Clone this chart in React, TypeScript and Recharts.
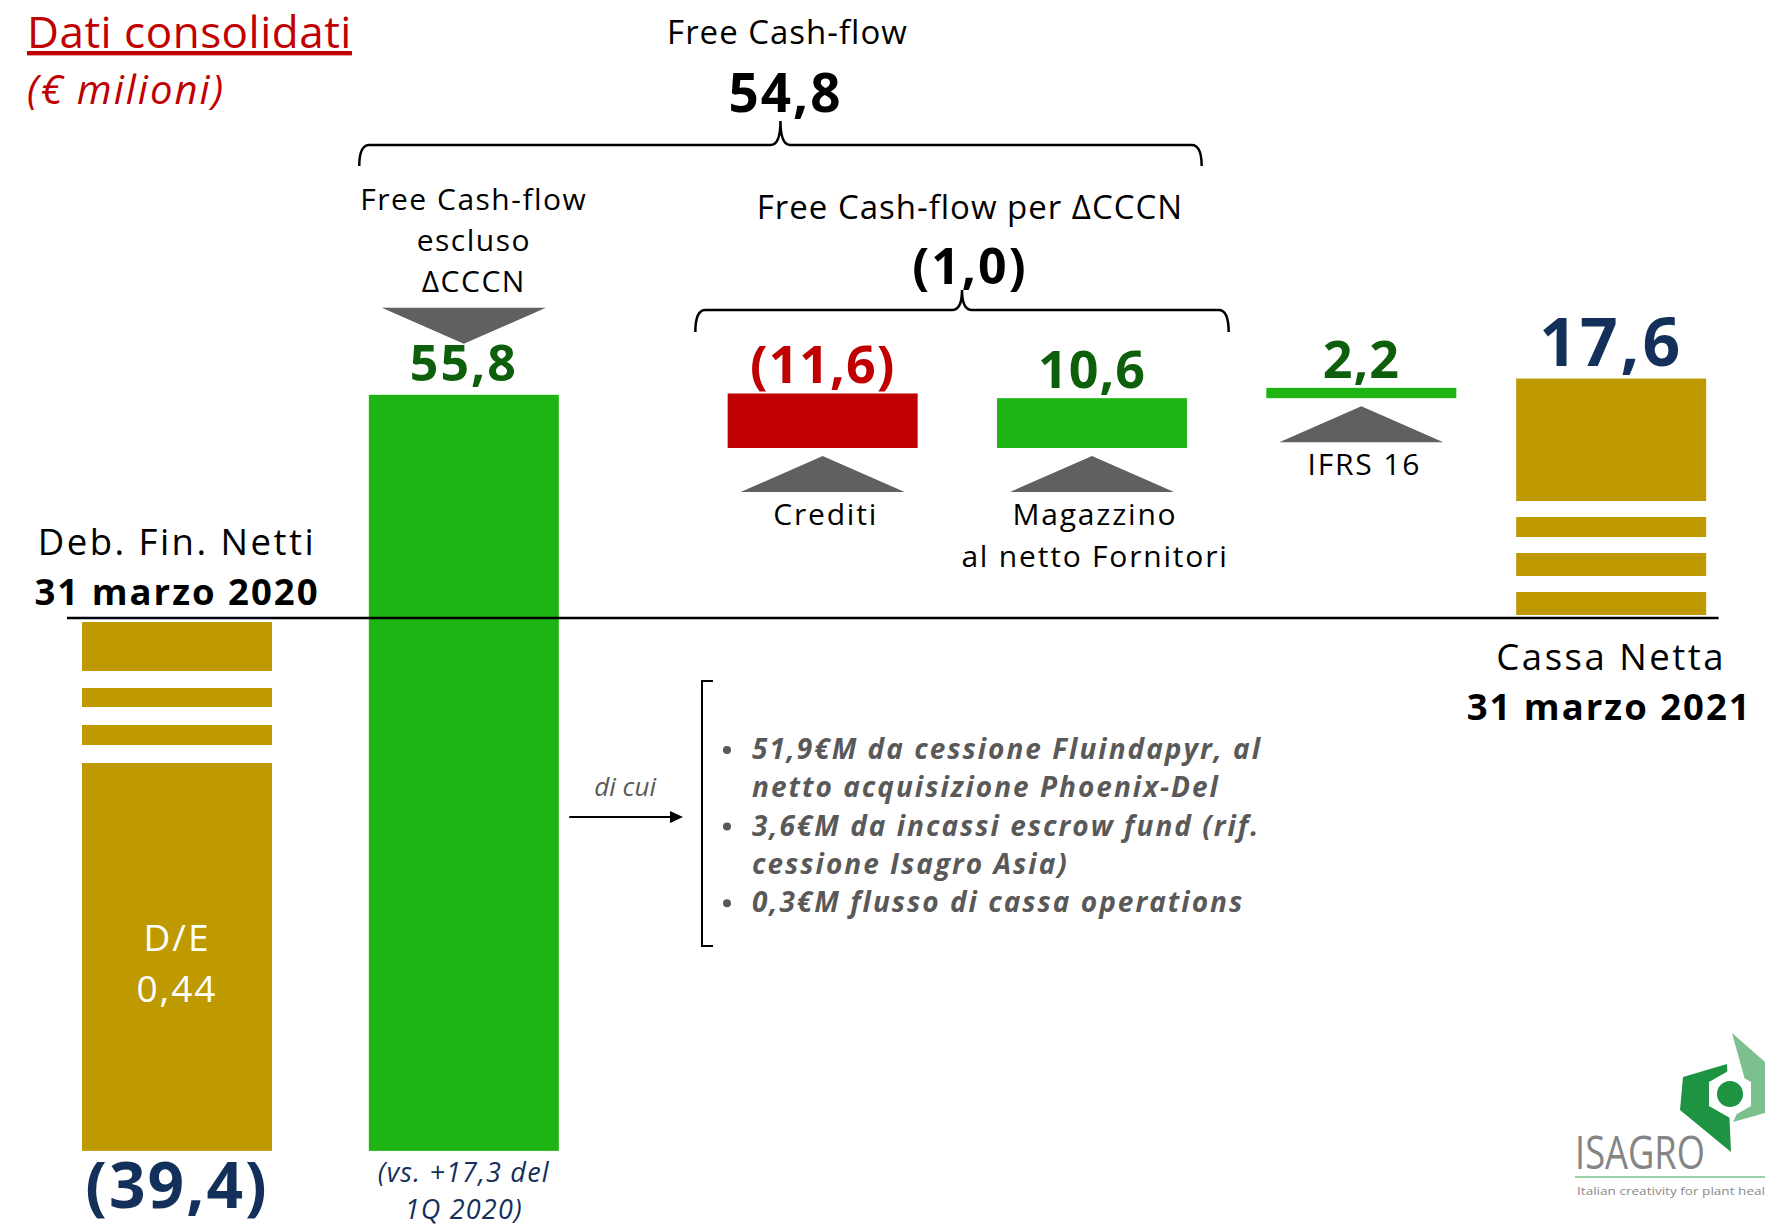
import React from 'react';
import { ComposedChart, Bar, XAxis, YAxis } from 'recharts';

// Net financial position bridge, € millions
const categories = [
  ['Deb. Fin. Netti', '31 marzo 2020'],
  ['Free Cash-flow', 'escluso', 'ΔCCCN'],
  ['Crediti'],
  ['Magazzino', 'al netto Fornitori'],
  ['IFRS 16'],
  ['Cassa Netta', '31 marzo 2021'],
];
const stepValues = [-39.4, 55.8, -11.6, 10.6, 2.2, 17.6];
const stepKinds = ['total', 'delta', 'delta', 'delta', 'delta', 'total'];
// middle steps are drawn on a compressed scale, as in the slide
const stepScale = ['main', 'main', 'detail', 'detail', 'detail', 'main'];
const debtToEquity = 0.44;
const priorYearFcf = 17.3;
const fcfBreakdown = [
  ['51,9€M da cessione Fluindapyr, al', 'netto acquisizione Phoenix-Del'],
  ['3,6€M da incassi escrow fund (rif.', 'cessione Isagro Asia)'],
  ['0,3€M flusso di cassa operations'],
];

const W = 1765;
const H = 1228;
const PAD_MAIN = { left: 34, right: 10 };
const PAD_DETAIL = { left: 149, right: 0 };
const BAR_W = 190;
const Y0 = 617;
const K_MAIN = 13.55;
const K_DETAIL = 4.7;
const DETAIL_REF = 4.8;
const DETAIL_REF_Y = 448;

const FONT = "'Open Sans', sans-serif";
const GOLD = '#BF9900';
const GREEN = '#1EB514';
const RED = '#C00000';
const DARK_GREEN = '#0E5F0B';
const NAVY = '#13305A';
const GREY = '#606060';
const TEXT_GREY = '#595959';

const fmt = (v: number, d = 1) => {
  const s = Math.abs(v).toFixed(d).replace('.', ',');
  return v < 0 ? `(${s})` : s;
};

let run = 0;
const rows = categories.map((lines, i) => {
  const v = stepValues[i];
  let lo: number;
  let hi: number;
  if (stepKinds[i] === 'total') {
    lo = Math.min(0, v);
    hi = Math.max(0, v);
    run = v;
  } else {
    const next = run + v;
    lo = Math.min(run, next);
    hi = Math.max(run, next);
    run = next;
  }
  return {
    name: lines.join(' '),
    idx: i,
    lines,
    value: v,
    kind: stepKinds[i],
    group: stepScale[i],
    main: stepScale[i] === 'main' ? [lo, hi] : null,
    detail: stepScale[i] === 'detail' ? [lo, hi] : null,
  };
});

const fcfTotal = stepValues[1] + stepValues[2] + stepValues[3];
const fcfCccn = stepValues[2] + stepValues[3];

const mainDomain = [-(H - Y0) / K_MAIN, Y0 / K_MAIN];
const detailDomain = [DETAIL_REF - (H - DETAIL_REF_Y) / K_DETAIL, DETAIL_REF + DETAIL_REF_Y / K_DETAIL];

// band centres, same band scales the two x axes use
const bandCenter = (pad: { left: number; right: number }) => (i: number) =>
  pad.left + ((W - pad.left - pad.right) / categories.length) * (i + 0.5);
const bxMain = bandCenter(PAD_MAIN);
const bxDetail = bandCenter(PAD_DETAIL);

const T = (p: any) => {
  const { children, size = 31, weight = 400, italic = false, fill = '#000', anchor = 'middle', ...rest } = p;
  return (
    <text
      fontFamily={FONT}
      fontSize={size}
      fontWeight={weight}
      fontStyle={italic ? 'italic' : 'normal'}
      fill={fill}
      textAnchor={anchor}
      {...rest}
    >
      {children}
    </text>
  );
};

const StepShape = (props: any) => {
  const { x, y, width, height, payload, group } = props;
  if (!payload || payload.group !== group) return null;
  if (![x, y, width, height].every((n) => Number.isFinite(n)) || height <= 0) return null;
  const cx = x + width / 2;
  const bottom = y + height;
  const row = payload;
  const fill = row.kind === 'total' ? GOLD : row.value >= 0 ? GREEN : RED;
  const out: React.ReactNode[] = [<rect key="bar" x={x} y={y} width={width} height={height} fill={fill} />];

  if (row.kind === 'total' && row.value < 0) {
    const gaps = [[0, 5], [54, 71], [90, 108], [128, 146]];
    gaps.forEach(([a, b], k) =>
      out.push(<rect key={'g' + k} x={x - 1} y={y + a} width={width + 2} height={b - a} fill="#fff" />)
    );
    out.push(<T key="l0" x={cx} y={y - 62} size={36.5} letterSpacing={2.5}>{row.lines[0]}</T>);
    out.push(<T key="l1" x={cx} y={y - 12} size={36.5} weight={700} letterSpacing={2}>{row.lines[1]}</T>);
    out.push(<T key="de0" x={cx} y={y + 334} size={37} fill="#fff" letterSpacing={2}>D/E</T>);
    out.push(<T key="de1" x={cx} y={y + 385} size={37} fill="#fff" letterSpacing={2}>{fmt(debtToEquity, 2)}</T>);
    out.push(<T key="v" x={cx} y={bottom + 57} size={64} weight={700} fill={NAVY} letterSpacing={2}>{fmt(row.value)}</T>);
  } else if (row.kind === 'total') {
    const gaps = [[0, 2], [25, 41], [64, 80], [100, 116]];
    gaps.forEach(([a, b], k) =>
      out.push(<rect key={'g' + k} x={x - 1} y={bottom - b} width={width + 2} height={b - a} fill="#fff" />)
    );
    out.push(<T key="v" x={cx} y={y - 13} size={66} weight={700} fill={NAVY} letterSpacing={3}>{fmt(row.value)}</T>);
    out.push(<T key="l0" x={cx} y={bottom + 53} size={36.5} letterSpacing={2.5}>{row.lines[0]}</T>);
    out.push(<T key="l1" x={cx - 2} y={bottom + 103} size={36.5} weight={700} letterSpacing={2}>{row.lines[1]}</T>);
  } else if (group === 'main') {
    out.push(<T key="v" x={cx} y={y - 14} size={50} weight={700} fill={DARK_GREEN} letterSpacing={2}>{fmt(row.value)}</T>);
    out.push(
      <polygon key="tri" points={`${cx - 82},${y - 87} ${cx + 82},${y - 87} ${cx},${y - 51}`} fill={GREY} />
    );
    row.lines.forEach((l: string, k: number) =>
      out.push(<T key={'l' + k} x={cx + 10} y={y - 185 + k * 41} size={30} letterSpacing={1.5}>{l}</T>)
    );
    out.push(<T key="p0" x={cx} y={bottom + 31} size={27} italic fill={NAVY} letterSpacing={1.2}>{`(vs. +${fmt(priorYearFcf)} del`}</T>);
    out.push(<T key="p1" x={cx} y={bottom + 68} size={27} italic fill={NAVY} letterSpacing={1.2}>1Q 2020)</T>);
  } else {
    const color = row.value < 0 ? RED : DARK_GREEN;
    out.push(<T key="v" x={cx} y={y - 10} size={52} weight={700} fill={color} letterSpacing={1}>{fmt(row.value)}</T>);
    out.push(
      <polygon key="tri" points={`${cx - 82},${bottom + 44} ${cx + 82},${bottom + 44} ${cx},${bottom + 8}`} fill={GREY} />
    );
    row.lines.forEach((l: string, k: number) =>
      out.push(<T key={'l' + k} x={cx + 3} y={bottom + 77 + k * 42} size={30} letterSpacing={1.8}>{l}</T>)
    );
  }
  return <g>{out}</g>;
};

const brace = (x1: number, x2: number, y: number, tip: number, drop: number, rise: number) =>
  `M${x1},${y + drop} Q${x1},${y} ${x1 + 10},${y} L${tip - 10},${y} Q${tip},${y} ${tip},${y - rise} ` +
  `Q${tip},${y} ${tip + 10},${y} L${x2 - 10},${y} Q${x2},${y} ${x2},${y + drop}`;

const Overlay = () => {
  const b1l = bxMain(1) - BAR_W / 2 - 10;
  const b1r = bxDetail(3) + BAR_W / 2 + 15;
  const tip1 = (b1l + b1r) / 2;
  const b2l = bxDetail(2) - BAR_W / 2 - 32;
  const b2r = bxDetail(3) + BAR_W / 2 + 42;
  const tip2 = (b2l + b2r) / 2;
  const arrowX = bxMain(1) + BAR_W / 2 + 10;
  const bulletLines: { text: string; dot: boolean }[] = [];
  fcfBreakdown.forEach((item) => item.forEach((t, k) => bulletLines.push({ text: t, dot: k === 0 })));
  return (
    <svg width={W} height={H} style={{ position: 'absolute', left: 0, top: 0, pointerEvents: 'none' }}>
      <T x={27} y={48} size={44} anchor="start" fill={RED} textDecoration="underline" letterSpacing={0.5}>Dati consolidati</T>
      <T x={27} y={104} size={40} anchor="start" italic fill={RED} letterSpacing={2}>(€ milioni)</T>

      <T x={tip1 + 7} y={44} size={33} letterSpacing={1}>Free Cash-flow</T>
      <T x={tip1 + 5} y={112} size={53} weight={700} letterSpacing={2}>{fmt(fcfTotal)}</T>
      <path d={brace(b1l, b1r, 145, tip1, 21, 24)} fill="none" stroke="#000" strokeWidth={2.5} />

      <T x={tip2 + 8} y={219} size={33} letterSpacing={1}>Free Cash-flow per ΔCCCN</T>
      <T x={tip2 + 8} y={284} size={50} weight={700} letterSpacing={2}>{fmt(fcfCccn)}</T>
      <path d={brace(b2l, b2r, 310, tip2, 22, 20)} fill="none" stroke="#000" strokeWidth={2.5} />

      <line x1={67} x2={bxMain(5) + BAR_W / 2 + 12} y1={618} y2={618} stroke="#000" strokeWidth={2.5} />

      <T x={(arrowX + 681) / 2} y={796} size={26} italic fill={TEXT_GREY}>di cui</T>
      <line x1={arrowX} x2={670} y1={817} y2={817} stroke="#000" strokeWidth={2} />
      <polygon points={`670,811 683,817 670,823`} fill="#000" />
      <path d="M713,681 L702,681 L702,946 L713,946" fill="none" stroke="#000" strokeWidth={2} />
      {bulletLines.map((b, k) => (
        <g key={k}>
          {b.dot && <circle cx={727} cy={750 + k * 38.3} r={4} fill={TEXT_GREY} />}
          <T x={752} y={759 + k * 38.3} size={28} weight={700} italic anchor="start" fill={TEXT_GREY} letterSpacing={2}>
            {b.text}
          </T>
        </g>
      ))}

      {/* company logo */}
      <polygon points="1732,1033 1765,1062 1765,1113 1733,1122 1746,1095 1745,1080" fill="#7CC08E" />
      <polygon points="1683,1077 1727,1064 1731,1152 1680,1110" fill="#1E9443" />
      <polygon points="1730,1070 1751,1082 1751,1106 1730,1118 1709,1106 1709,1082" fill="#fff" />
      <circle cx={1730} cy={1094} r={13} fill="#1E9443" />
      <text x={1575} y={1169} fontFamily={FONT} fontSize={46} fill="#858585" textLength={130} lengthAdjust="spacingAndGlyphs">ISAGRO</text>
      <line x1={1575} x2={1765} y1={1177} y2={1177} stroke="#9BD0A8" strokeWidth={2} />
      <text x={1577} y={1195} fontFamily={FONT} fontSize={11} fill="#8A8A8A" textLength={188} lengthAdjust="spacingAndGlyphs">Italian creativity for plant heal</text>
    </svg>
  );
};

const App = () => (
  <div style={{ position: 'absolute', left: 0, top: 0, width: W, height: H, background: '#fff' }}>
    <ComposedChart width={W} height={H} data={rows} margin={{ top: 0, right: 0, bottom: 0, left: 0 }}>
      <XAxis xAxisId="main" dataKey="name" hide padding={PAD_MAIN} />
      <XAxis xAxisId="detail" dataKey="name" hide padding={PAD_DETAIL} />
      <YAxis yAxisId="main" type="number" hide domain={mainDomain} allowDataOverflow />
      <YAxis yAxisId="detail" type="number" hide domain={detailDomain} allowDataOverflow />
      <Bar
        xAxisId="main"
        yAxisId="main"
        dataKey="main"
        barSize={BAR_W}
        isAnimationActive={false}
        shape={(p: any) => <StepShape {...p} group="main" />}
      />
      <Bar
        xAxisId="detail"
        yAxisId="detail"
        dataKey="detail"
        barSize={BAR_W}
        isAnimationActive={false}
        shape={(p: any) => <StepShape {...p} group="detail" />}
      />
    </ComposedChart>
    <Overlay />
  </div>
);

export default App;
